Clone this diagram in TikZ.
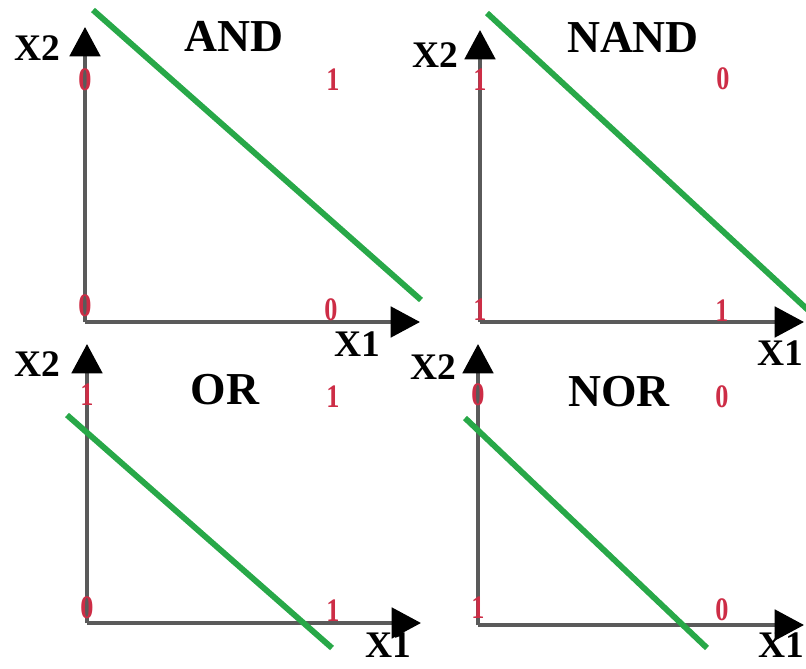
\documentclass[tikz,border=0pt]{standalone}
\usepackage{fontspec}
\setmainfont{Liberation Serif}
\usepackage{xcolor}
\usetikzlibrary{arrows.meta}

\definecolor{axisgray}{RGB}{90,90,90}
\definecolor{linegreen}{RGB}{40,168,72}
\definecolor{digitred}{RGB}{205,45,70}

\begin{document}
\begin{tikzpicture}[x=0.03cm, y=-0.03cm,
  axis/.style={draw=axisgray, line width=3pt, -{Triangle[length=25pt, width=26pt, color=black]}},
  sepline/.style={draw=linegreen, line width=5pt},
  gate/.style={inner sep=0pt, font=\fontsize{39}{39}\selectfont\bfseries},
  axlabel/.style={inner sep=0pt, font=\fontsize{32}{32}\selectfont\bfseries},
  digit/.style={inner sep=0pt, text=digitred, font=\fontsize{28}{28}\selectfont\bfseries, xscale=0.8}]
\useasboundingbox (0,0) rectangle (806,669);

% AND
\coordinate (and-o) at (85,322);
\coordinate (and-y) at (85,27);
\coordinate (and-x) at (420,322);
\draw[axis] (and-o) -- (and-y);
\draw[axis] (and-o) -- (and-x);
\node[gate] (and-title) at (234,36) {AND};
\node[axlabel] (and-x2) at (37,48) {X2};
\node[axlabel] (and-x1) at (357,344) {X1};
\node[digit] (and-00) at (85,306) {0};
\node[digit] (and-01) at (85,80) {0};
\node[digit] (and-10) at (331,310) {0};
\node[digit] (and-11) at (333,80) {1};
\coordinate (and-a) at (93,10);
\coordinate (and-b) at (421,300);
\draw[sepline] (and-a) -- (and-b);

% NAND
\coordinate (nand-o) at (480,322);
\coordinate (nand-y) at (480,30);
\coordinate (nand-x) at (804,322);
\draw[axis] (nand-o) -- (nand-y);
\draw[axis] (nand-o) -- (nand-x);
\node[gate] (nand-title) at (633,37) {NAND};
\node[axlabel] (nand-x2) at (435,55) {X2};
\node[axlabel] (nand-x1) at (780,353) {X1};
\node[digit] (nand-00) at (480,310) {1};
\node[digit] (nand-01) at (480,80) {1};
\node[digit] (nand-10) at (722,311) {1};
\node[digit] (nand-11) at (723,79) {0};
\coordinate (nand-a) at (487,13);
\coordinate (nand-b) at (808,310);
\draw[sepline] (nand-a) -- (nand-b);

% OR
\coordinate (or-o) at (87,623);
\coordinate (or-y) at (87,344);
\coordinate (or-x) at (421,623);
\draw[axis] (or-o) -- (or-y);
\draw[axis] (or-o) -- (or-x);
\node[gate] (or-title) at (225,390) {OR};
\node[axlabel] (or-x2) at (37,364) {X2};
\node[axlabel] (or-x1) at (388,645) {X1};
\node[digit] (or-00) at (87,608) {0};
\node[digit] (or-01) at (87,395) {1};
\node[digit] (or-10) at (333,611) {1};
\node[digit] (or-11) at (333,397) {1};
\coordinate (or-a) at (67,415);
\coordinate (or-b) at (332,648);
\draw[sepline] (or-a) -- (or-b);

% NOR
\coordinate (nor-o) at (478,625);
\coordinate (nor-y) at (478,344);
\coordinate (nor-x) at (804,625);
\draw[axis] (nor-o) -- (nor-y);
\draw[axis] (nor-o) -- (nor-x);
\node[gate] (nor-title) at (619,392) {NOR};
\node[axlabel] (nor-x2) at (433,367) {X2};
\node[axlabel] (nor-x1) at (781,645) {X1};
\node[digit] (nor-00) at (478,608) {1};
\node[digit] (nor-01) at (478,395) {0};
\node[digit] (nor-10) at (722,610) {0};
\node[digit] (nor-11) at (722,397) {0};
\coordinate (nor-a) at (465,418);
\coordinate (nor-b) at (707,648);
\draw[sepline] (nor-a) -- (nor-b);
\end{tikzpicture}
\end{document}
